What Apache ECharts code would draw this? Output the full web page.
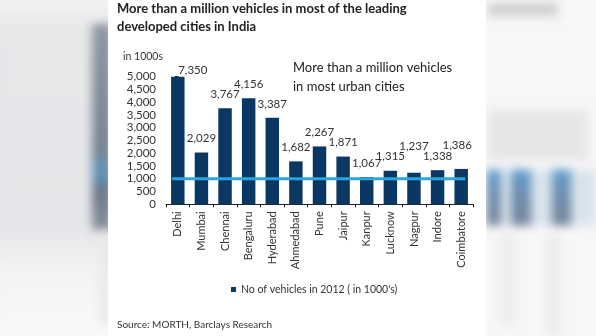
<!DOCTYPE html>
<html>
<head>
<meta charset="utf-8">
<script src="https://cdn.jsdelivr.net/npm/echarts@6/dist/echarts.min.js"></script>
<style>
  html, body { margin: 0; padding: 0; width: 596px; height: 336px; overflow: hidden; background: #f6f6f7; }
  #bg { position: absolute; left: 0; top: 0; width: 596px; height: 336px; overflow: hidden; }
  .blob { position: absolute; filter: blur(5px); }
  #panel { position: absolute; left: 108px; top: 0; width: 378px; height: 336px; background: #ffffff; }
  #chart { position: absolute; left: 0; top: 0; width: 596px; height: 336px; }
</style>
</head>
<body>
<div id="bg">
  <!-- soft backdrop on the left -->
  <div class="blob" style="left:-10px;top:-10px;width:130px;height:360px;background:linear-gradient(#f4f4f5 0%, #e6e7e9 12%, #e4e5e8 65%, #f3f3f4 78%, #fafafa 100%);"></div>
  <div class="blob" style="left:92px;top:24px;width:20px;height:206px;background:linear-gradient(#8d96a3 0%, #79838f 60%, #5f92bb 72%, #6b7686 82%, #8a919c 100%);"></div>
  <div class="blob" style="left:100px;top:235px;width:10px;height:90px;background:#e8e8e9;"></div>
  <!-- soft backdrop on the right -->
  <div class="blob" style="left:480px;top:-10px;width:130px;height:360px;background:#f7f7f8;"></div>
  <div class="blob" style="left:488px;top:3px;width:70px;height:13px;background:#cfcfd1;"></div>
  <div class="blob" style="left:488px;top:110px;width:100px;height:50px;background:#e6e6e8;"></div>
  <div class="blob" style="left:486px;top:170px;width:110px;height:56px;background:#d9e3ec;"></div>
  <div class="blob" style="left:487px;top:170px;width:14px;height:55px;background:linear-gradient(#5f9fd2 0%, #6c8fb4 35%, #778599 100%);"></div>
  <div class="blob" style="left:511px;top:170px;width:20px;height:55px;background:linear-gradient(#5f9fd2 0%, #6c8fb4 35%, #778599 100%);"></div>
  <div class="blob" style="left:552px;top:170px;width:19px;height:55px;background:linear-gradient(#5f9fd2 0%, #6c8fb4 35%, #778599 100%);"></div>
  <div class="blob" style="left:500px;top:235px;width:14px;height:90px;background:#ebebec;"></div>
  <div class="blob" style="left:546px;top:235px;width:14px;height:100px;background:#ebebec;"></div>
</div>
<div id="panel"></div>
<div id="chart"></div>
<script>
// Registered vehicles per city, 2012 (thousands)
const cities = ['Delhi', 'Mumbai', 'Chennai', 'Bengaluru', 'Hyderabad', 'Ahmedabad', 'Pune',
  'Jaipur', 'Kanpur', 'Lucknow', 'Nagpur', 'Indore', 'Coimbatore'];
const vehicles = [7350, 2029, 3767, 4156, 3387, 1682, 2267, 1871, 1067, 1315, 1237, 1338, 1386];

// Value axis range and step
const yMin = 0;
const yMax = 5000;
const yStep = 500;

// One-million reference level and the category span it runs across
const millionLevel = 1000;
const millionSpan = [-0.24, 12.17];

const seriesName = "No of vehicles in 2012 ( in 1000's)";
const fontFamily = 'Lato, "Open Sans", sans-serif';
const textColor = '#333333';
const barColor = '#0b3862';

// Label nudges where neighbouring values would collide
const labelOffsets = { Delhi: [15, 8], Nagpur: [0, -12], Coimbatore: [-4, -10] };

const fmt = v => Number(v).toLocaleString('en-US');

const barData = vehicles.map((v, i) => {
  const item = { value: v };
  const off = labelOffsets[cities[i]];
  if (off) item.label = { offset: off };
  return item;
});

const chart = echarts.init(document.getElementById('chart'), null, { renderer: 'canvas' });

chart.setOption({
  backgroundColor: 'transparent',
  animation: false,
  textStyle: { fontFamily: fontFamily, color: textColor },
  title: {
    text: 'More than a million vehicles in most of the leading\ndeveloped cities in India',
    left: 117,
    top: 0,
    padding: 0,
    textStyle: { fontFamily: fontFamily, fontSize: 13, fontWeight: 'bold', color: '#222222', lineHeight: 18 }
  },
  graphic: [
    {
      type: 'text', left: 123, top: 51,
      style: { text: 'in 1000s', font: '10.5px ' + fontFamily, fill: textColor }
    },
    {
      type: 'text', left: 293, top: 58,
      style: { text: 'More than a million vehicles\nin most urban cities', font: '13px ' + fontFamily, fill: '#222222', lineHeight: 19 }
    },
    {
      type: 'text', left: 117, top: 320,
      style: { text: 'Source: MORTH, Barclays Research', font: '10px ' + fontFamily, fill: textColor }
    }
  ],
  legend: {
    data: [seriesName],
    left: 226,
    top: 279,
    icon: 'rect',
    itemWidth: 5,
    itemHeight: 5,
    itemGap: 6,
    textStyle: { fontFamily: fontFamily, fontSize: 10.5, color: textColor }
  },
  grid: { left: 166, right: 123, top: 76.7, bottom: 131.7, containLabel: false },
  xAxis: [
    {
      type: 'category',
      data: cities,
      axisLine: { lineStyle: { color: '#222222', width: 1 } },
      axisTick: { show: true, length: 3, lineStyle: { color: '#222222' } },
      axisLabel: { rotate: 90, margin: 7, fontSize: 11, color: textColor, fontFamily: fontFamily }
    },
    {
      type: 'value',
      min: -0.5,
      max: cities.length - 0.5,
      show: false
    }
  ],
  yAxis: {
    type: 'value',
    min: yMin,
    max: yMax,
    interval: yStep,
    splitLine: { show: false },
    axisLine: { show: true, lineStyle: { color: '#222222', width: 1 } },
    axisTick: { show: true, length: 3, lineStyle: { color: '#222222' } },
    axisLabel: { margin: 10, fontSize: 11.5, color: textColor, fontFamily: fontFamily, formatter: v => fmt(v) }
  },
  series: [
    {
      name: seriesName,
      type: 'bar',
      xAxisIndex: 0,
      data: barData,
      barWidth: '57%',
      itemStyle: { color: barColor },
      label: {
        show: true,
        position: 'top',
        distance: 8,
        fontSize: 11.5,
        color: textColor,
        fontFamily: fontFamily,
        formatter: p => fmt(p.value)
      }
    },
    {
      name: 'million',
      type: 'line',
      xAxisIndex: 1,
      data: millionSpan.map(x => [x, millionLevel]),
      symbol: 'none',
      z: 5,
      lineStyle: { color: '#2aa6df', width: 3 },
      silent: true
    }
  ]
});
</script>
</body>
</html>
